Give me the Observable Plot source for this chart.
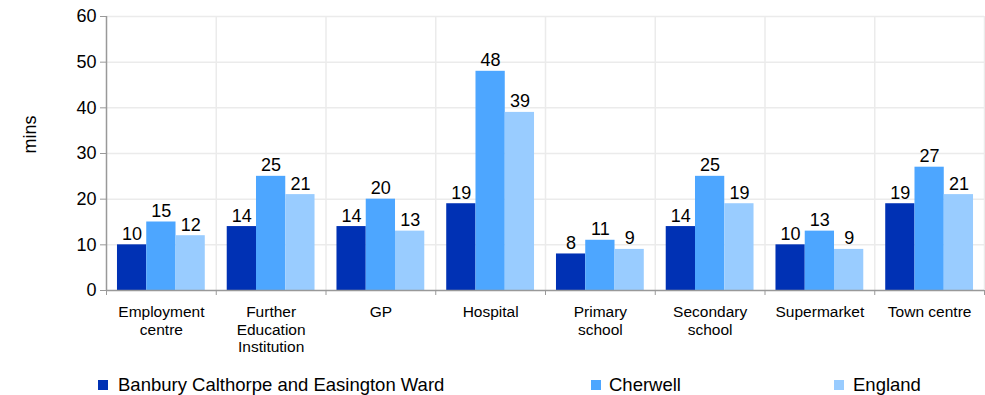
<!DOCTYPE html>
<html><head><meta charset="utf-8">
<script src="https://cdn.jsdelivr.net/npm/d3@7"></script>
<script src="https://cdn.jsdelivr.net/npm/@observablehq/plot@0.6"></script>
<style>
html,body{margin:0;padding:0;background:#fff;}
body{font-family:"Liberation Sans",Arial,sans-serif;width:985px;height:395px;overflow:hidden;position:relative;}
#legend{position:absolute;left:0;top:0;width:985px;height:395px;pointer-events:none;}
.item{position:absolute;top:373px;font-size:18.5px;color:#000;line-height:24px;white-space:nowrap;}
.sw{position:absolute;width:10px;height:10px;}
</style></head><body><div id="chart"></div><div id="legend"></div>
<script>
const categories = ["Employment centre","Further Education Institution","GP","Hospital","Primary school","Secondary school","Supermarket","Town centre"];
const categoryLabels = ["Employment\ncentre","Further\nEducation\nInstitution","GP","Hospital","Primary\nschool","Secondary\nschool","Supermarket","Town centre"];
const seriesNames = ["Banbury Calthorpe and Easington Ward","Cherwell","England"];
const banbury = [10,14,14,19,8,14,10,19];
const cherwell = [15,25,20,48,11,25,13,27];
const england = [12,21,13,39,9,19,9,21];
const yTicks = [0,10,20,30,40,50,60];
const colors = ["#0031B4","#4DA6FF","#99CCFF"];

const seriesValues = [banbury, cherwell, england];
const rows = [];
categories.forEach((c, i) => {
  seriesValues.forEach((vals, k) => {
    rows.push({cat: c, i, k, series: seriesNames[k], value: vals[i]});
  });
});
const groupPad = 0.1;
const barW = (1 - 2 * groupPad) / seriesNames.length;
const x1 = d => d.i + groupPad + d.k * barW;
const x2 = d => d.i + groupPad + (d.k + 1) * barW;
const boundaries = d3.range(0, categories.length + 1);
const centers = categories.map((c, i) => i + 0.5);

const chart = Plot.plot({
  width: 985,
  height: 360,
  marginLeft: 106,
  marginRight: 1,
  marginTop: 16,
  marginBottom: 70,
  style: {fontFamily: "'Liberation Sans', Arial, sans-serif", color: "#000", background: "#fff"},
  x: {type: "linear", domain: [0, categories.length]},
  y: {domain: [0, 60]},
  color: {domain: seriesNames, range: colors},
  marks: [
    Plot.ruleY(yTicks.slice(1), {stroke: "#ebebeb", strokeWidth: 1.5}),
    Plot.ruleX(boundaries.slice(1), {y1: 0, y2: 60, stroke: "#ebebeb", strokeWidth: 1.5}),
    Plot.rectY(rows, {x1, x2, y: "value", fill: "series"}),
    Plot.text(rows, {x: d => (x1(d) + x2(d)) / 2, y: "value", text: d => String(d.value), lineAnchor: "bottom", dy: -5, fontSize: 18, fill: "#000"}),
    Plot.ruleX([0], {y1: 0, y2: 60, stroke: "#999", strokeWidth: 1.5}),
    Plot.ruleY([0], {stroke: "#999", strokeWidth: 1.5}),
    Plot.axisY({ticks: yTicks, tickSize: 6, tickPadding: 4, fontSize: 18, stroke: "#999", label: null}),
    Plot.axisX({ticks: boundaries, tickSize: 5, tickFormat: () => "", stroke: "#999", label: null}),
    Plot.axisX({ticks: centers, tickSize: 0, tickPadding: 14, fontSize: 15.5, lineHeight: 1.14, tickFormat: (d) => categoryLabels[Math.round(d - 0.5)], label: null}),
    Plot.text(["mins"], {frameAnchor: "left", dx: -76, rotate: -90, fontSize: 18, fill: "#000"})
  ]
});
document.getElementById("chart").appendChild(chart);

const legendPos = [{sw: 98, tx: 118}, {sw: 591, tx: 609}, {sw: 834, tx: 853}];
const legend = document.getElementById("legend");
seriesNames.forEach((s, k) => {
  const sw = document.createElement("div");
  sw.className = "sw";
  sw.style.left = legendPos[k].sw + "px";
  sw.style.top = "380px";
  sw.style.background = colors[k];
  legend.appendChild(sw);
  const t = document.createElement("div");
  t.className = "item";
  t.style.left = legendPos[k].tx + "px";
  t.textContent = s;
  legend.appendChild(t);
});
</script></body></html>
